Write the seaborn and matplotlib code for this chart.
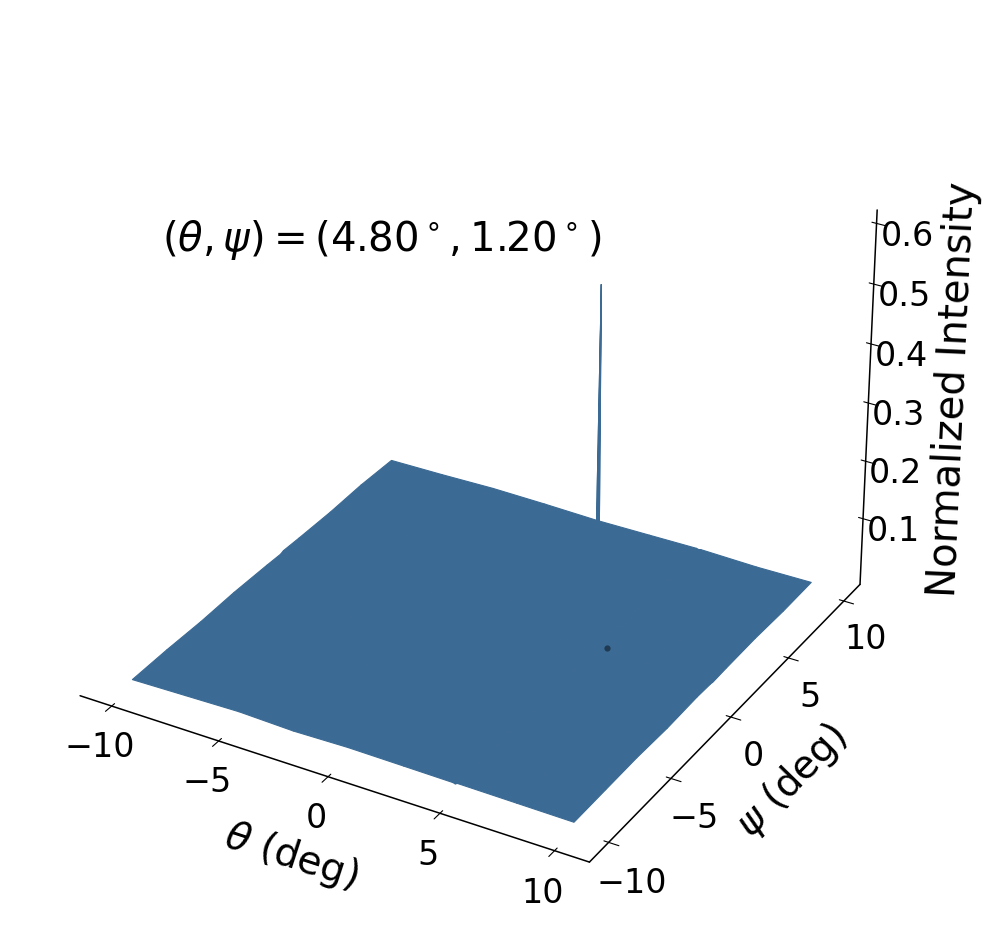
import numpy as np
import seaborn as sns
import matplotlib
matplotlib.use("Agg")
import matplotlib.pyplot as plt

# sample positions (deg), tighter around the peak
theta_deg = [-10, -7.5, -5, -2.5, 0, 2.5, 4.7, 4.8, 4.9, 7.5, 10]
psi_deg = [-10, -7.5, -5, -2.5, 0, 1.1, 1.2, 1.3, 2.5, 5, 7.5, 10]

# normalized intensity, one row per psi value
intensity = [
    [-0.001, 0.001, 0.003, 0.000, 0.002, 0.001, 0.000, -0.001, 0.001, 0.000, -0.001],
    [0.000, -0.001, 0.001, 0.002, -0.001, 0.000, 0.001, 0.000, -0.001, 0.001, 0.000],
    [-0.001, 0.002, 0.000, -0.001, 0.001, -0.001, 0.000, 0.001, 0.000, -0.001, 0.001],
    [0.001, 0.000, -0.001, 0.003, 0.000, 0.002, -0.001, -0.001, 0.000, 0.002, -0.001],
    [0.000, -0.001, 0.002, 0.000, 0.004, -0.001, 0.001, 0.002, -0.001, 0.000, 0.001],
    [-0.001, 0.001, 0.000, -0.001, 0.001, 0.000, -0.001, -0.001, 0.000, -0.001, 0.000],
    [0.000, 0.000, -0.001, 0.001, 0.000, -0.001, -0.001, 0.609, 0.000, -0.001, 0.000],
    [0.001, -0.001, -0.001, 0.001, 0.000, -0.001, 0.000, 0.000, 0.001, -0.001, -0.001],
    [0.000, 0.002, 0.001, 0.000, -0.001, 0.001, -0.001, -0.001, -0.001, 0.002, 0.000],
    [-0.001, 0.000, -0.001, 0.002, 0.001, 0.000, 0.002, 0.001, 0.000, -0.001, 0.001],
    [0.001, -0.001, 0.000, -0.001, 0.000, 0.002, -0.001, -0.001, -0.001, 0.000, -0.001],
    [-0.001, 0.000, 0.002, 0.001, -0.001, 0.000, 0.001, 0.000, 0.001, -0.001, 0.000],
]

# small dark dip next to the foot of the peak
dip_theta = [5.17]
dip_psi = [1.42]
dip_z = [0.0]

xticks = [-10, -5, 0, 5, 10]
yticks = [-10, -5, 0, 5, 10]
zticks = [0.1, 0.2, 0.3, 0.4, 0.5, 0.6]

sns.set_style("white", {"text.color": "black", "axes.labelcolor": "black", "xtick.color": "black",
                        "ytick.color": "black", "axes.edgecolor": "black"})
surface_color = "#3b6a94"

fig = plt.figure(figsize=(9.97, 9.30), dpi=100)
ax = fig.add_axes([-0.0211, 0.0115, 0.975, 0.975], projection="3d")
ax.computed_zorder = False

X, Y = np.meshgrid(theta_deg, psi_deg)
Z = np.array(intensity)
ax.plot_surface(X, Y, Z, rstride=1, cstride=1, color=surface_color, edgecolor=surface_color,
                linewidth=0.8, shade=False, antialiased=True, zorder=1)
ax.scatter(dip_theta, dip_psi, dip_z, color="#1f3a52", s=20, linewidths=0, depthshade=False, zorder=2)

ax.set_xlim(-11.5, 11.5)
ax.set_ylim(-11.5, 11.5)
ax.set_zlim(-0.016, 0.622)
ax.set_xticks(xticks)
ax.set_yticks(yticks)
ax.set_zticks(zticks)
ax.tick_params(labelsize=24)
ax.tick_params(axis="x", pad=5)
ax.tick_params(axis="y", pad=7)
ax.tick_params(axis="z", pad=5.5)
ax.set_xlabel(r"$\theta$ (deg)", fontsize=28, labelpad=20)
ax.set_ylabel(r"$\psi$ (deg)", fontsize=28, labelpad=20)
ax.set_zlabel("Normalized Intensity", fontsize=29, labelpad=17)
ax.set_title(r"$(\theta, \psi) = (4.80^\circ, 1.20^\circ)$", fontsize=29, x=0.408, y=0.791)

ax.grid(False)
for axis in (ax.xaxis, ax.yaxis, ax.zaxis):
    axis.set_pane_color((1, 1, 1, 0))
    axis.pane.set_edgecolor((1, 1, 1, 0))
    axis.line.set_linewidth(1.1)
    axis._axinfo["tick"]["inward_factor"] = 0.24
    axis._axinfo["tick"]["outward_factor"] = 0.11

ax.view_init(elev=30, azim=-60)

fig.savefig("out.png", dpi=100)
